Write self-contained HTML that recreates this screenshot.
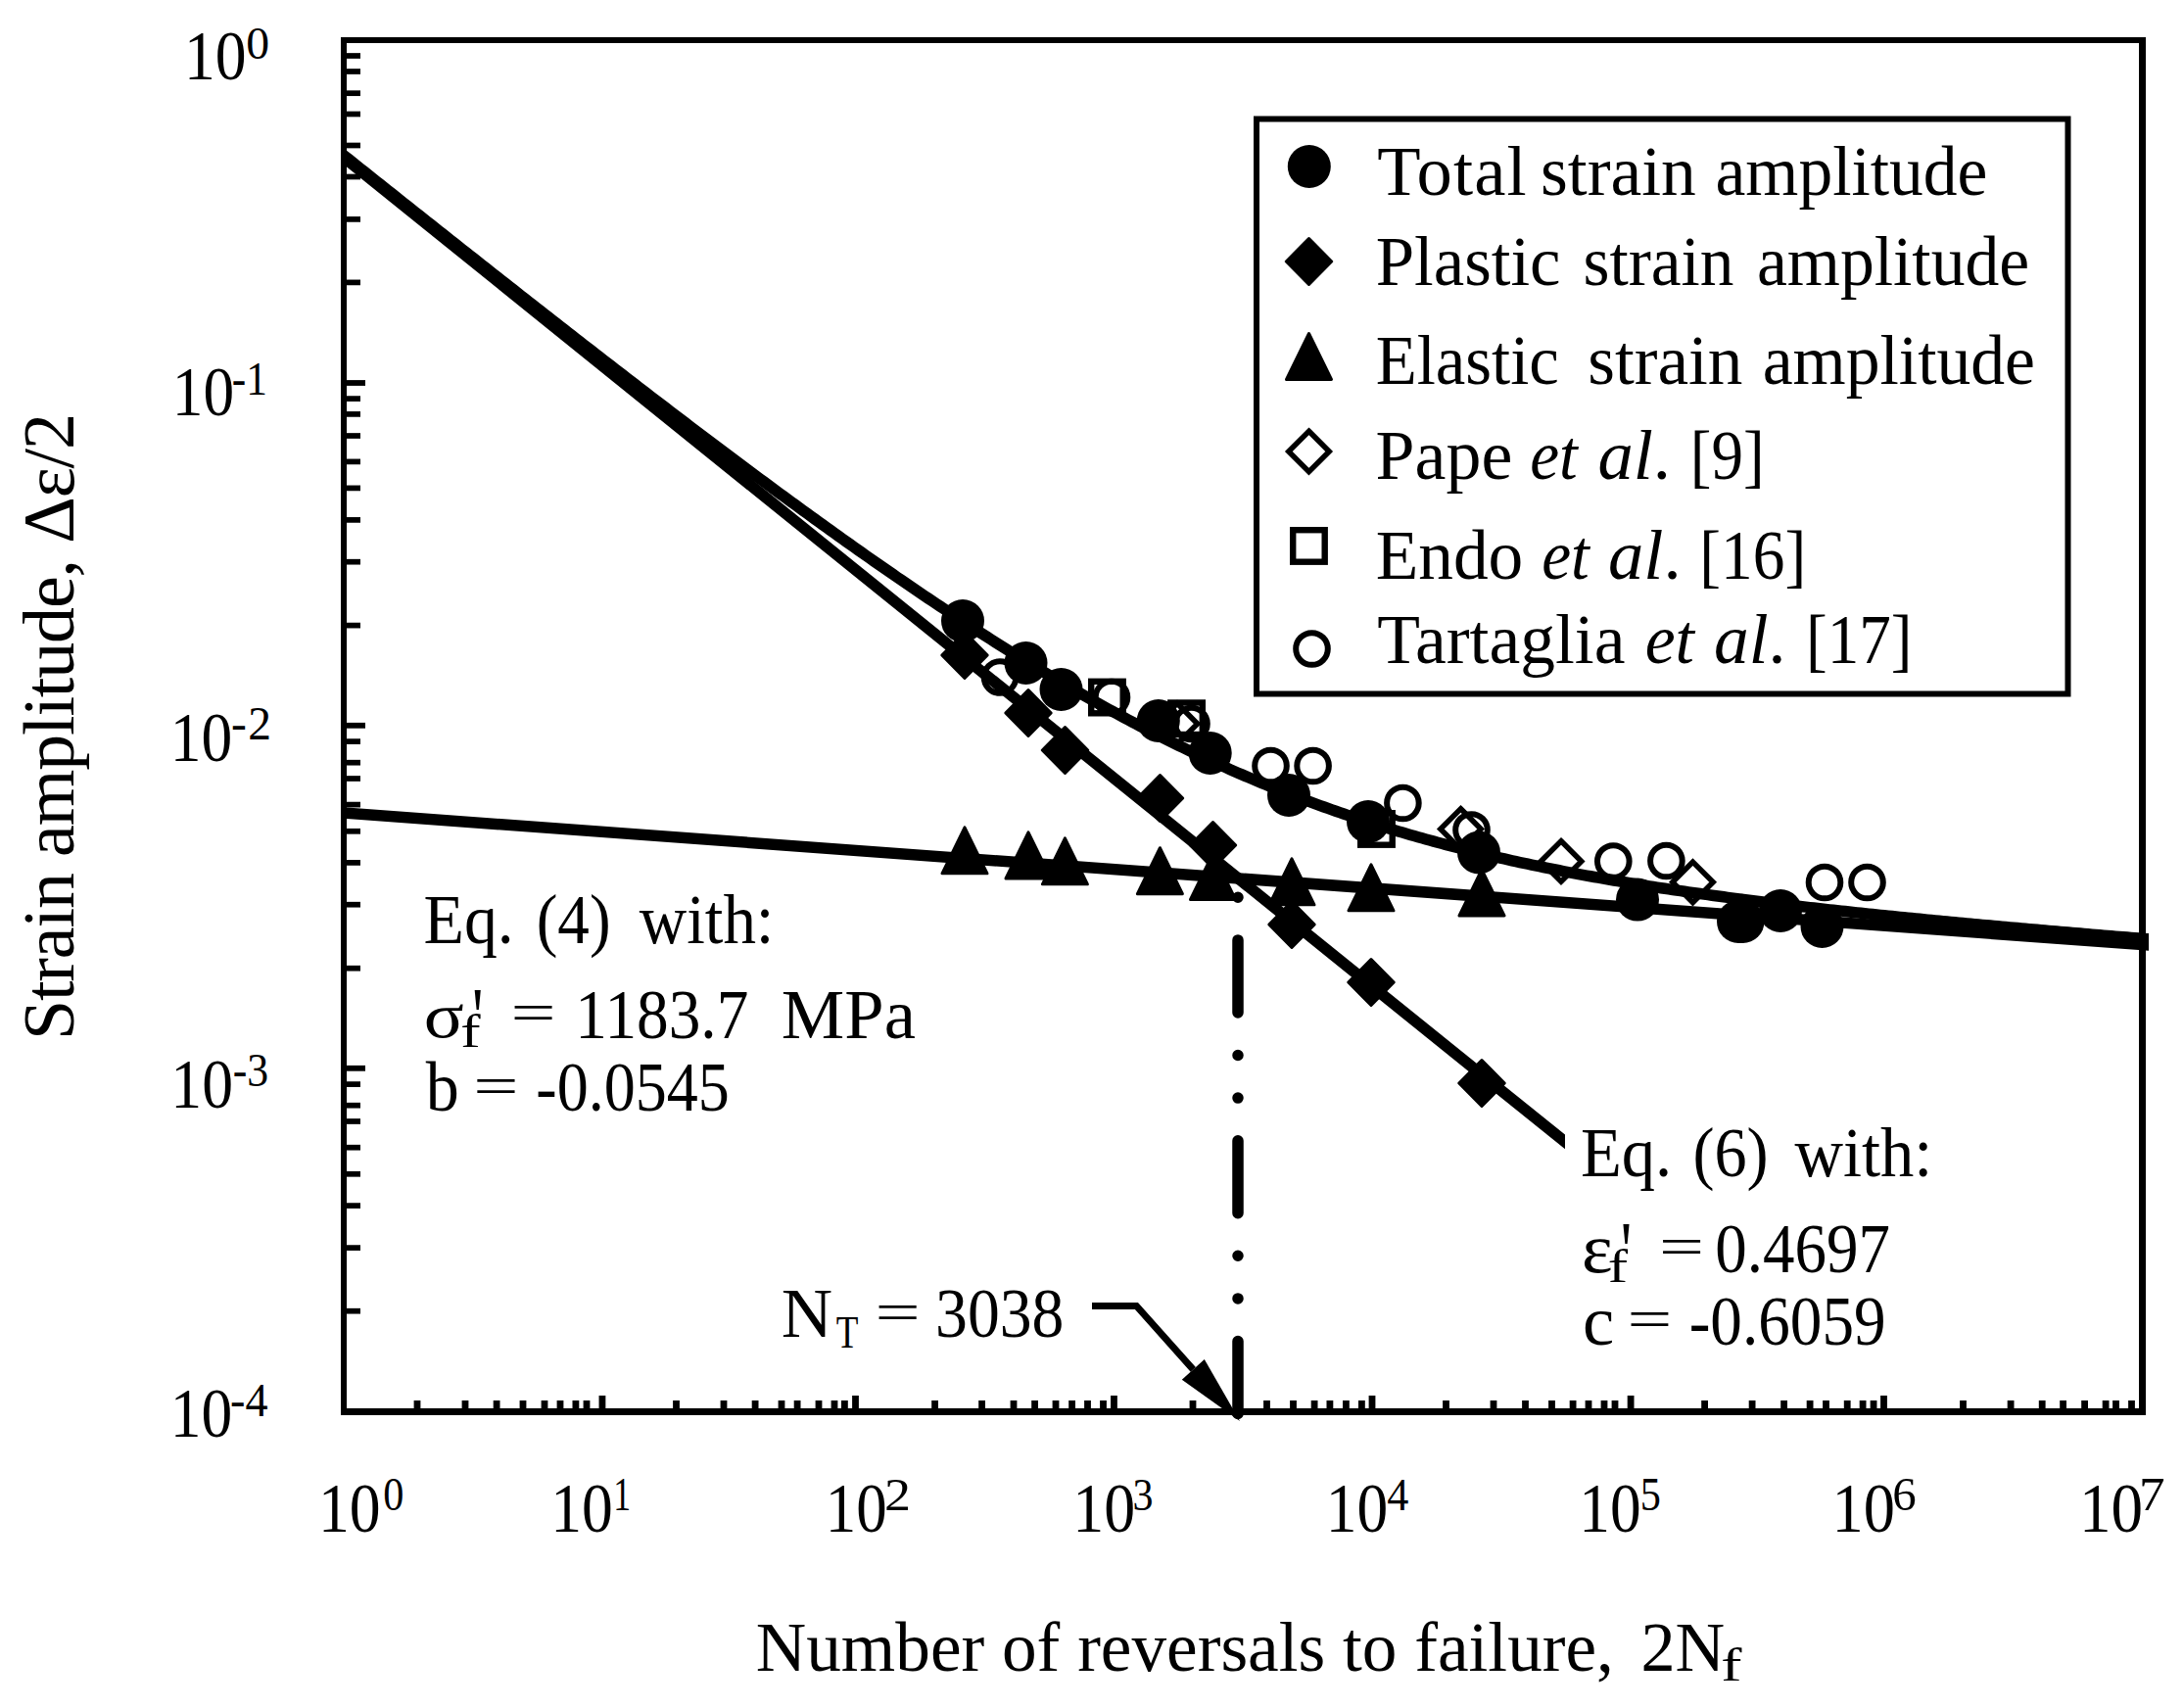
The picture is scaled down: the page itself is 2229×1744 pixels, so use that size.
<!DOCTYPE html>
<html><head><meta charset="utf-8"><title>Strain-life curve</title>
<style>html,body{margin:0;padding:0;background:#fff;}svg{display:block;}text{font-family:'Liberation Serif','Times New Roman',serif;fill:#000;}</style></head><body>
<svg width="2229" height="1744" viewBox="0 0 2229 1744">
<rect x="0" y="0" width="2229" height="1744" fill="#fff"/>
<defs><clipPath id="plotclip"><rect x="351" y="41" width="1843" height="1400"/></clipPath><clipPath id="plclip"><rect x="351" y="41" width="1247.0" height="1400"/></clipPath></defs>
<g clip-path="url(#plotclip)" fill="none" stroke="#000" stroke-width="11.5" stroke-linejoin="round">
<line x1="340" y1="829.29" x2="2210" y2="966.22"/>
<polyline points="340.0,149.83 344.0,153.02 348.0,156.21 352.0,159.39 356.0,162.58 360.0,165.77 364.0,168.96 368.0,172.14 372.0,175.33 376.0,178.51 380.0,181.70 384.0,184.88 388.0,188.06 392.0,191.24 396.0,194.42 400.0,197.60 404.0,200.78 408.0,203.96 412.0,207.14 416.0,210.31 420.0,213.49 424.0,216.66 428.0,219.83 432.0,223.01 436.0,226.18 440.0,229.35 444.0,232.52 448.0,235.68 452.0,238.85 456.0,242.02 460.0,245.18 464.0,248.34 468.0,251.51 472.0,254.67 476.0,257.83 480.0,260.99 484.0,264.14 488.0,267.30 492.0,270.45 496.0,273.61 500.0,276.76 504.0,279.91 508.0,283.06 512.0,286.21 516.0,289.35 520.0,292.50 524.0,295.64 528.0,298.78 532.0,301.92 536.0,305.06 540.0,308.20 544.0,311.34 548.0,314.47 552.0,317.60 556.0,320.73 560.0,323.86 564.0,326.99 568.0,330.11 572.0,333.23 576.0,336.35 580.0,339.47 584.0,342.59 588.0,345.70 592.0,348.82 596.0,351.93 600.0,355.04 604.0,358.14 608.0,361.25 612.0,364.35 616.0,367.45 620.0,370.55 624.0,373.64 628.0,376.73 632.0,379.82 636.0,382.91 640.0,385.99 644.0,389.08 648.0,392.16 652.0,395.23 656.0,398.31 660.0,401.38 664.0,404.45 668.0,407.51 672.0,410.58 676.0,413.64 680.0,416.69 684.0,419.75 688.0,422.80 692.0,425.84 696.0,428.89 700.0,431.93 704.0,434.97 708.0,438.00 712.0,441.03 716.0,444.06 720.0,447.08 724.0,450.10 728.0,453.12 732.0,456.13 736.0,459.14 740.0,462.14 744.0,465.14 748.0,468.14 752.0,471.13 756.0,474.12 760.0,477.10 764.0,480.08 768.0,483.06 772.0,486.03 776.0,489.00 780.0,491.96 784.0,494.91 788.0,497.87 792.0,500.81 796.0,503.76 800.0,506.70 804.0,509.63 808.0,512.56 812.0,515.48 816.0,518.39 820.0,521.31 824.0,524.21 828.0,527.11 832.0,530.01 836.0,532.90 840.0,535.78 844.0,538.66 848.0,541.53 852.0,544.40 856.0,547.26 860.0,550.11 864.0,552.96 868.0,555.80 872.0,558.63 876.0,561.46 880.0,564.28 884.0,567.10 888.0,569.90 892.0,572.70 896.0,575.50 900.0,578.28 904.0,581.06 908.0,583.83 912.0,586.60 916.0,589.36 920.0,592.10 924.0,594.85 928.0,597.58 932.0,600.30 936.0,603.02 940.0,605.73 944.0,608.43 948.0,611.12 952.0,613.81 956.0,616.48 960.0,619.15 964.0,621.81 968.0,624.46 972.0,627.10 976.0,629.73 980.0,632.35 984.0,634.97 988.0,637.57 992.0,640.16 996.0,642.75 1000.0,645.32 1004.0,647.89 1008.0,650.44 1012.0,652.99 1016.0,655.52 1020.0,658.05 1024.0,660.56 1028.0,663.06 1032.0,665.56 1036.0,668.04 1040.0,670.51 1044.0,672.97 1048.0,675.42 1052.0,677.86 1056.0,680.29 1060.0,682.71 1064.0,685.11 1068.0,687.51 1072.0,689.89 1076.0,692.26 1080.0,694.62 1084.0,696.96 1088.0,699.30 1092.0,701.62 1096.0,703.93 1100.0,706.23 1104.0,708.52 1108.0,710.79 1112.0,713.06 1116.0,715.31 1120.0,717.54 1124.0,719.77 1128.0,721.98 1132.0,724.18 1136.0,726.36 1140.0,728.53 1144.0,730.69 1148.0,732.84 1152.0,734.97 1156.0,737.09 1160.0,739.20 1164.0,741.29 1168.0,743.37 1172.0,745.44 1176.0,747.49 1180.0,749.53 1184.0,751.56 1188.0,753.57 1192.0,755.57 1196.0,757.55 1200.0,759.52 1204.0,761.48 1208.0,763.42 1212.0,765.35 1216.0,767.27 1220.0,769.17 1224.0,771.05 1228.0,772.93 1232.0,774.79 1236.0,776.63 1240.0,778.46 1244.0,780.28 1248.0,782.08 1252.0,783.87 1256.0,785.64 1260.0,787.40 1264.0,789.15 1268.0,790.88 1272.0,792.60 1276.0,794.30 1280.0,795.99 1284.0,797.67 1288.0,799.33 1292.0,800.97 1296.0,802.61 1300.0,804.23 1304.0,805.83 1308.0,807.42 1312.0,809.00 1316.0,810.56 1320.0,812.11 1324.0,813.65 1328.0,815.17 1332.0,816.68 1336.0,818.17 1340.0,819.65 1344.0,821.12 1348.0,822.57 1352.0,824.01 1356.0,825.44 1360.0,826.85 1364.0,828.25 1368.0,829.64 1372.0,831.01 1376.0,832.37 1380.0,833.72 1384.0,835.06 1388.0,836.38 1392.0,837.69 1396.0,838.98 1400.0,840.26 1404.0,841.53 1408.0,842.79 1412.0,844.04 1416.0,845.27 1420.0,846.49 1424.0,847.70 1428.0,848.90 1432.0,850.08 1436.0,851.25 1440.0,852.41 1444.0,853.56 1448.0,854.70 1452.0,855.83 1456.0,856.94 1460.0,858.04 1464.0,859.14 1468.0,860.22 1472.0,861.29 1476.0,862.35 1480.0,863.39 1484.0,864.43 1488.0,865.46 1492.0,866.47 1496.0,867.48 1500.0,868.47 1504.0,869.46 1508.0,870.43 1512.0,871.40 1516.0,872.35 1520.0,873.30 1524.0,874.23 1528.0,875.16 1532.0,876.07 1536.0,876.98 1540.0,877.88 1544.0,878.76 1548.0,879.64 1552.0,880.51 1556.0,881.37 1560.0,882.23 1564.0,883.07 1568.0,883.90 1572.0,884.73 1576.0,885.55 1580.0,886.36 1584.0,887.16 1588.0,887.95 1592.0,888.74 1596.0,889.52 1600.0,890.29 1604.0,891.05 1608.0,891.81 1612.0,892.55 1616.0,893.29 1620.0,894.03 1624.0,894.75 1628.0,895.47 1632.0,896.18 1636.0,896.89 1640.0,897.58 1644.0,898.28 1648.0,898.96 1652.0,899.64 1656.0,900.31 1660.0,900.98 1664.0,901.63 1668.0,902.29 1672.0,902.93 1676.0,903.58 1680.0,904.21 1684.0,904.84 1688.0,905.46 1692.0,906.08 1696.0,906.70 1700.0,907.30 1704.0,907.90 1708.0,908.50 1712.0,909.09 1716.0,909.68 1720.0,910.26 1724.0,910.83 1728.0,911.41 1732.0,911.97 1736.0,912.53 1740.0,913.09 1744.0,913.64 1748.0,914.19 1752.0,914.73 1756.0,915.27 1760.0,915.81 1764.0,916.34 1768.0,916.86 1772.0,917.39 1776.0,917.91 1780.0,918.42 1784.0,918.93 1788.0,919.44 1792.0,919.94 1796.0,920.44 1800.0,920.93 1804.0,921.42 1808.0,921.91 1812.0,922.40 1816.0,922.88 1820.0,923.36 1824.0,923.83 1828.0,924.30 1832.0,924.77 1836.0,925.23 1840.0,925.70 1844.0,926.15 1848.0,926.61 1852.0,927.06 1856.0,927.51 1860.0,927.96 1864.0,928.40 1868.0,928.85 1872.0,929.28 1876.0,929.72 1880.0,930.15 1884.0,930.59 1888.0,931.01 1892.0,931.44 1896.0,931.86 1900.0,932.28 1904.0,932.70 1908.0,933.12 1912.0,933.53 1916.0,933.95 1920.0,934.36 1924.0,934.76 1928.0,935.17 1932.0,935.57 1936.0,935.97 1940.0,936.37 1944.0,936.77 1948.0,937.17 1952.0,937.56 1956.0,937.95 1960.0,938.34 1964.0,938.73 1968.0,939.12 1972.0,939.50 1976.0,939.89 1980.0,940.27 1984.0,940.65 1988.0,941.02 1992.0,941.40 1996.0,941.78 2000.0,942.15 2004.0,942.52 2008.0,942.89 2012.0,943.26 2016.0,943.63 2020.0,943.99 2024.0,944.36 2028.0,944.72 2032.0,945.09 2036.0,945.45 2040.0,945.81 2044.0,946.16 2048.0,946.52 2052.0,946.88 2056.0,947.23 2060.0,947.59 2064.0,947.94 2068.0,948.29 2072.0,948.64 2076.0,948.99 2080.0,949.34 2084.0,949.68 2088.0,950.03 2092.0,950.38 2096.0,950.72 2100.0,951.06 2104.0,951.41 2108.0,951.75 2112.0,952.09 2116.0,952.43 2120.0,952.77 2124.0,953.10 2128.0,953.44 2132.0,953.78 2136.0,954.11 2140.0,954.45 2144.0,954.78 2148.0,955.11 2152.0,955.44 2156.0,955.78 2160.0,956.11 2164.0,956.44 2168.0,956.77 2172.0,957.09 2176.0,957.42 2180.0,957.75 2184.0,958.08 2188.0,958.40 2192.0,958.73 2196.0,959.05 2200.0,959.38 2204.0,959.70 2208.0,960.02"/>
</g>
<g clip-path="url(#plclip)" fill="none" stroke="#000" stroke-width="11.5">
<line x1="340" y1="151.63" x2="1620" y2="1183.69"/>
</g>
<line x1="1264" y1="1443.5" x2="1264" y2="895" stroke="#000" stroke-width="11.5" stroke-linecap="round" stroke-dasharray="74 43.6 0 43.6 0 43.6" fill="none"/>
<g fill="#000" stroke="#000" stroke-width="3" stroke-linejoin="round">
<path d="M985.0 645.5L1008.2 669.0L985.0 692.5L961.8 669.0Z"/>
<path d="M1050.0 704.5L1073.2 728.0L1050.0 751.5L1026.8 728.0Z"/>
<path d="M1087.5 742.5L1110.7 766.0L1087.5 789.5L1064.3 766.0Z"/>
<path d="M1184.5 791.5L1207.7 815.0L1184.5 838.5L1161.3 815.0Z"/>
<path d="M1238.5 839.5L1261.7 863.0L1238.5 886.5L1215.3 863.0Z"/>
<path d="M1319.0 920.5L1342.2 944.0L1319.0 967.5L1295.8 944.0Z"/>
<path d="M1400.0 979.5L1423.2 1003.0L1400.0 1026.5L1376.8 1003.0Z"/>
<path d="M1513.0 1082.5L1536.2 1106.0L1513.0 1129.5L1489.8 1106.0Z"/>
<path d="M985.0 844.8L1008.0 891.8L962.0 891.8Z"/>
<path d="M1050.0 849.9L1073.0 896.9L1027.0 896.9Z"/>
<path d="M1087.4 855.8L1110.4 902.8L1064.4 902.8Z"/>
<path d="M1184.4 865.7L1207.4 912.7L1161.4 912.7Z"/>
<path d="M1238.5 871.5L1261.5 918.5L1215.5 918.5Z"/>
<path d="M1319.0 876.8L1342.0 923.8L1296.0 923.8Z"/>
<path d="M1400.0 882.8L1423.0 929.8L1377.0 929.8Z"/>
<path d="M1513.0 887.9L1536.0 934.9L1490.0 934.9Z"/>
</g>
<g fill="#000">
<circle cx="983.0" cy="634.0" r="22"/>
<circle cx="1047.5" cy="677.0" r="22"/>
<circle cx="1083.5" cy="704.0" r="22"/>
<circle cx="1182.8" cy="736.0" r="22"/>
<circle cx="1235.7" cy="769.0" r="22"/>
<circle cx="1316.0" cy="812.0" r="22"/>
<circle cx="1397.0" cy="839.0" r="22"/>
<circle cx="1510.0" cy="870.5" r="22"/>
<circle cx="1672.0" cy="918.6" r="22"/>
<circle cx="1775.0" cy="941.0" r="22"/>
<circle cx="1779.5" cy="941.0" r="22"/>
<circle cx="1818.0" cy="930.0" r="22"/>
<circle cx="1860.5" cy="946.0" r="22"/>
</g>
<g fill="none" stroke="#000" stroke-width="5.5" stroke-miterlimit="10">
<path d="M1202.0 718.3L1222.7 739.0L1202.0 759.7L1181.3 739.0Z"/>
<path d="M1491.5 825.8L1512.2 846.5L1491.5 867.2L1470.8 846.5Z"/>
<path d="M1594.0 858.8L1614.7 879.5L1594.0 900.2L1573.3 879.5Z"/>
<path d="M1728.5 880.1L1749.2 900.8L1728.5 921.5L1707.8 900.8Z"/>
</g>
<g fill="none" stroke="#000" stroke-width="6.4">
<rect x="1114.2" y="695.8" width="32.5" height="32.5"/>
<rect x="1195.3" y="717.5" width="32.5" height="32.5"/>
<rect x="1389.2" y="830.2" width="32.5" height="32.5"/>
</g>
<g fill="none" stroke="#000" stroke-width="6">
<circle cx="1021.0" cy="691.5" r="16.3"/>
<circle cx="1135.0" cy="712.0" r="16.3"/>
<circle cx="1216.5" cy="739.0" r="16.3"/>
<circle cx="1297.5" cy="782.0" r="16.3"/>
<circle cx="1340.6" cy="782.0" r="16.3"/>
<circle cx="1432.4" cy="820.0" r="16.3"/>
<circle cx="1502.5" cy="847.5" r="16.3"/>
<circle cx="1647.3" cy="879.5" r="16.3"/>
<circle cx="1701.4" cy="879.0" r="16.3"/>
<circle cx="1863.0" cy="901.0" r="16.3"/>
<circle cx="1906.5" cy="901.0" r="16.3"/>
</g>
<polyline points="1115,1333.5 1160.4,1333.5 1218.3,1398.4" fill="none" stroke="#000" stroke-width="7" stroke-linejoin="miter"/>
<path d="M1266 1451L1206.8 1408.7L1229.8 1388.1Z" fill="#000"/>
<g fill="#000">
<rect x="348" y="38" width="6" height="1407"/>
<rect x="2184" y="38" width="7" height="1407"/>
<rect x="348" y="38" width="1843" height="6"/>
<rect x="350" y="1438" width="1841" height="7"/>
<rect x="354" y="388.10" width="19" height="5.8"/>
<rect x="354" y="737.90" width="19" height="5.8"/>
<rect x="354" y="1087.90" width="19" height="5.8"/>
<rect x="354" y="54.15" width="14" height="5.7"/>
<rect x="354" y="70.15" width="14" height="5.7"/>
<rect x="354" y="92.35" width="14" height="5.7"/>
<rect x="354" y="113.65" width="14" height="5.7"/>
<rect x="354" y="145.65" width="14" height="5.7"/>
<rect x="354" y="177.65" width="14" height="5.7"/>
<rect x="354" y="221.05" width="14" height="5.7"/>
<rect x="354" y="285.55" width="14" height="5.7"/>
<rect x="354" y="404.25" width="14" height="5.7"/>
<rect x="354" y="420.05" width="14" height="5.7"/>
<rect x="354" y="442.15" width="14" height="5.7"/>
<rect x="354" y="468.55" width="14" height="5.7"/>
<rect x="354" y="495.55" width="14" height="5.7"/>
<rect x="354" y="528.05" width="14" height="5.7"/>
<rect x="354" y="570.85" width="14" height="5.7"/>
<rect x="354" y="635.75" width="14" height="5.7"/>
<rect x="354" y="754.25" width="14" height="5.7"/>
<rect x="354" y="775.85" width="14" height="5.7"/>
<rect x="354" y="792.15" width="14" height="5.7"/>
<rect x="354" y="818.75" width="14" height="5.7"/>
<rect x="354" y="845.95" width="14" height="5.7"/>
<rect x="354" y="878.05" width="14" height="5.7"/>
<rect x="354" y="920.85" width="14" height="5.7"/>
<rect x="354" y="985.85" width="14" height="5.7"/>
<rect x="354" y="1104.25" width="14" height="5.7"/>
<rect x="354" y="1125.85" width="14" height="5.7"/>
<rect x="354" y="1142.15" width="14" height="5.7"/>
<rect x="354" y="1168.85" width="14" height="5.7"/>
<rect x="354" y="1195.95" width="14" height="5.7"/>
<rect x="354" y="1228.25" width="14" height="5.7"/>
<rect x="354" y="1271.25" width="14" height="5.7"/>
<rect x="354" y="1335.85" width="14" height="5.7"/>
<rect x="611.55" y="1425" width="6.8" height="13"/>
<rect x="870.10" y="1425" width="6.8" height="13"/>
<rect x="1134.05" y="1425" width="6.8" height="13"/>
<rect x="1397.60" y="1425" width="6.8" height="13"/>
<rect x="1661.70" y="1425" width="6.8" height="13"/>
<rect x="1920.10" y="1425" width="6.8" height="13"/>
<rect x="422.60" y="1430" width="6.8" height="8"/>
<rect x="471.60" y="1430" width="6.8" height="8"/>
<rect x="503.70" y="1430" width="6.8" height="8"/>
<rect x="530.60" y="1430" width="6.8" height="8"/>
<rect x="552.60" y="1430" width="6.8" height="8"/>
<rect x="568.60" y="1430" width="6.8" height="8"/>
<rect x="584.50" y="1430" width="6.8" height="8"/>
<rect x="595.60" y="1430" width="6.8" height="8"/>
<rect x="687.10" y="1430" width="6.8" height="8"/>
<rect x="735.60" y="1430" width="6.8" height="8"/>
<rect x="767.70" y="1430" width="6.8" height="8"/>
<rect x="794.60" y="1430" width="6.8" height="8"/>
<rect x="810.70" y="1430" width="6.8" height="8"/>
<rect x="832.60" y="1430" width="6.8" height="8"/>
<rect x="848.60" y="1430" width="6.8" height="8"/>
<rect x="859.00" y="1430" width="6.8" height="8"/>
<rect x="951.20" y="1430" width="6.8" height="8"/>
<rect x="999.20" y="1430" width="6.8" height="8"/>
<rect x="1031.60" y="1430" width="6.8" height="8"/>
<rect x="1053.20" y="1430" width="6.8" height="8"/>
<rect x="1074.60" y="1430" width="6.8" height="8"/>
<rect x="1091.20" y="1430" width="6.8" height="8"/>
<rect x="1107.10" y="1430" width="6.8" height="8"/>
<rect x="1123.10" y="1430" width="6.8" height="8"/>
<rect x="1214.60" y="1430" width="6.8" height="8"/>
<rect x="1260.60" y="1430" width="6.8" height="8"/>
<rect x="1290.10" y="1430" width="6.8" height="8"/>
<rect x="1317.10" y="1430" width="6.8" height="8"/>
<rect x="1338.70" y="1430" width="6.8" height="8"/>
<rect x="1354.50" y="1430" width="6.8" height="8"/>
<rect x="1371.00" y="1430" width="6.8" height="8"/>
<rect x="1387.00" y="1430" width="6.8" height="8"/>
<rect x="1473.10" y="1430" width="6.8" height="8"/>
<rect x="1521.60" y="1430" width="6.8" height="8"/>
<rect x="1554.10" y="1430" width="6.8" height="8"/>
<rect x="1581.10" y="1430" width="6.8" height="8"/>
<rect x="1602.70" y="1430" width="6.8" height="8"/>
<rect x="1618.60" y="1430" width="6.8" height="8"/>
<rect x="1634.60" y="1430" width="6.8" height="8"/>
<rect x="1645.60" y="1430" width="6.8" height="8"/>
<rect x="1737.20" y="1430" width="6.8" height="8"/>
<rect x="1785.70" y="1430" width="6.8" height="8"/>
<rect x="1818.20" y="1430" width="6.8" height="8"/>
<rect x="1844.70" y="1430" width="6.8" height="8"/>
<rect x="1861.10" y="1430" width="6.8" height="8"/>
<rect x="1882.80" y="1430" width="6.8" height="8"/>
<rect x="1898.70" y="1430" width="6.8" height="8"/>
<rect x="1909.65" y="1430" width="6.8" height="8"/>
<rect x="2001.10" y="1430" width="6.8" height="8"/>
<rect x="2049.70" y="1430" width="6.8" height="8"/>
<rect x="2081.80" y="1430" width="6.8" height="8"/>
<rect x="2103.20" y="1430" width="6.8" height="8"/>
<rect x="2125.20" y="1430" width="6.8" height="8"/>
<rect x="2146.70" y="1430" width="6.8" height="8"/>
<rect x="2157.10" y="1430" width="6.8" height="8"/>
<rect x="2173.10" y="1430" width="6.8" height="8"/>
</g>
<rect x="1283" y="121.5" width="828.5" height="587" fill="none" stroke="#000" stroke-width="6"/>
<g fill="#000" stroke="#000" stroke-width="3" stroke-linejoin="round">
<path d="M1336.5 243.5L1359.7 267.0L1336.5 290.5L1313.3 267.0Z"/>
<path d="M1336.5 340.5L1359.5 387.5L1313.5 387.5Z"/>
</g>
<circle cx="1336.8" cy="170.0" r="22"/>
<g fill="none" stroke="#000" stroke-width="5.5"><path d="M1336.5 440.3L1357.2 461.0L1336.5 481.7L1315.8 461.0Z"/></g>
<g fill="none" stroke="#000" stroke-width="6.4"><rect x="1320.2" y="541.2" width="32.5" height="32.5"/></g>
<g fill="none" stroke="#000" stroke-width="6"><circle cx="1339.5" cy="662.5" r="16.3"/></g>
<text id="y0m" transform="translate(187.97 80.70) scale(0.8766 1.0000)" font-size="72.50">10</text>
<text id="y0s" transform="translate(251.19 59.50) scale(1.0050 1.0000)" font-size="47.50">0</text>
<text id="y1m" transform="translate(175.76 423.75) scale(0.8734 1.0000)" font-size="72.50">10</text>
<text id="y1s" transform="translate(236.78 403.00) scale(0.9143 1.0000)" font-size="47.50">-1</text>
<text id="y2m" transform="translate(173.75 777.00) scale(0.8750 1.0000)" font-size="72.50">10</text>
<text id="y2s" x="236.00" y="754.80" font-size="47.50" textLength="40.88" lengthAdjust="spacing">-2</text>
<text id="y3m" transform="translate(174.34 1131.00) scale(0.8781 1.0000)" font-size="72.50">10</text>
<text id="y3s" transform="translate(237.76 1108.80) scale(0.9222 1.0000)" font-size="47.50">-3</text>
<text id="y4m" transform="translate(173.75 1467.00) scale(0.8750 1.0000)" font-size="72.50">10</text>
<text id="y4s" transform="translate(235.05 1445.80) scale(0.9730 1.0000)" font-size="47.50">-4</text>
<text id="x0m" transform="translate(324.96 1564.20) scale(0.8781 1.0000)" font-size="72.50">10</text>
<text id="x0s" transform="translate(391.17 1542.00) scale(0.8900 1.0000)" font-size="47.50">0</text>
<text id="x1m" transform="translate(562.35 1564.20) scale(0.8766 1.0000)" font-size="72.50">10</text>
<text id="x1s" transform="translate(626.24 1542.00) scale(0.7529 1.0000)" font-size="47.50">1</text>
<text id="x2m" transform="translate(842.80 1564.20) scale(0.8672 1.0000)" font-size="72.50">10</text>
<text id="x2s" transform="translate(902.90 1542.00) scale(1.1368 1.0000)" font-size="47.50">2</text>
<text id="x3m" transform="translate(1095.32 1564.20) scale(0.8812 1.0000)" font-size="72.50">10</text>
<text id="x3s" transform="translate(1156.45 1542.00) scale(0.8850 1.0000)" font-size="47.50">3</text>
<text id="x4m" transform="translate(1353.75 1564.20) scale(0.8750 1.0000)" font-size="72.50">10</text>
<text id="x4s" transform="translate(1416.25 1542.00) scale(0.9318 1.0000)" font-size="47.50">4</text>
<text id="x5m" transform="translate(1612.37 1564.20) scale(0.8734 1.0000)" font-size="72.50">10</text>
<text id="x5s" transform="translate(1674.72 1542.00) scale(0.8895 1.0000)" font-size="47.50">5</text>
<text id="x6m" transform="translate(1870.50 1564.20) scale(0.8891 1.0000)" font-size="72.50">10</text>
<text id="x6s" transform="translate(1932.33 1542.00) scale(1.0300 1.0000)" font-size="47.50">6</text>
<text id="x7m" transform="translate(2123.05 1564.20) scale(0.8984 1.0000)" font-size="72.50">10</text>
<text id="x7s" transform="translate(2184.05 1542.00) scale(1.1211 1.0000)" font-size="47.50">7</text>
<text id="lg1_0" x="1406.20" y="198.90" font-size="72.50" textLength="152.45" lengthAdjust="spacing">Total</text>
<text id="lg1_1" transform="translate(1573.04 198.90) scale(0.9860 1.0000)" font-size="72.50">strain</text>
<text id="lg1_2" transform="translate(1751.50 198.90) scale(0.9586 1.0000)" font-size="72.50">amplitude</text>
<text id="lg2_0" transform="translate(1404.65 290.60) scale(0.9772 1.0000)" font-size="72.50">Plastic</text>
<text id="lg2_1" transform="translate(1616.50 290.60) scale(0.9563 1.0000)" font-size="72.50">strain</text>
<text id="lg2_2" transform="translate(1793.91 290.60) scale(0.9600 1.0000)" font-size="72.50">amplitude</text>
<text id="lg3_0" transform="translate(1404.71 392.00) scale(0.9487 1.0000)" font-size="72.50">Elastic</text>
<text id="lg3_1" transform="translate(1621.25 392.00) scale(0.9822 1.0000)" font-size="72.50">strain</text>
<text id="lg3_2" transform="translate(1799.72 392.00) scale(0.9599 1.0000)" font-size="72.50">amplitude</text>
<text id="lg4_0" transform="translate(1404.62 489.20) scale(0.9912 1.0000)" font-size="72.50">Pape</text>
<text id="lg4_1" transform="translate(1562.18 489.20) scale(0.9275 1.0000)" font-size="72.50" font-style="italic">et</text>
<text id="lg4_2" x="1631.40" y="489.20" font-size="72.50" textLength="74.53" lengthAdjust="spacing" font-style="italic">al<tspan font-style="normal">.</tspan></text>
<text id="lg4_3" transform="translate(1725.73 489.20) scale(0.8973 1.0000)" font-size="72.50">[9]</text>
<text id="lg5_0" transform="translate(1404.63 591.00) scale(0.9845 1.0000)" font-size="72.50">Endo</text>
<text id="lg5_1" transform="translate(1574.14 591.00) scale(0.9288 1.0000)" font-size="72.50" font-style="italic">et</text>
<text id="lg5_2" x="1642.00" y="591.00" font-size="72.50" textLength="74.53" lengthAdjust="spacing" font-style="italic">al<tspan font-style="normal">.</tspan></text>
<text id="lg5_3" transform="translate(1735.37 591.00) scale(0.9009 1.0000)" font-size="72.50">[16]</text>
<text id="lg6_0" transform="translate(1406.22 677.20) scale(0.9874 1.0000)" font-size="72.50">Tartaglia</text>
<text id="lg6_1" transform="translate(1679.68 677.20) scale(0.9596 1.0000)" font-size="72.50" font-style="italic">et</text>
<text id="lg6_2" transform="translate(1750.03 677.20) scale(0.9853 1.0000)" font-size="72.50" font-style="italic">al<tspan font-style="normal">.</tspan></text>
<text id="lg6_3" transform="translate(1843.95 677.20) scale(0.8982 1.0000)" font-size="72.50">[17]</text>
<text id="xt" transform="translate(771.83 1706.00) scale(0.9824 1.0000)" font-size="72.50">Number of reversals to failure,</text>
<text id="xt2" transform="translate(1675.49 1706.00) scale(0.9679 1.0000)" font-size="72.50">2N</text>
<text id="xts" transform="translate(1757.26 1715.50) scale(1.3000 1.0000)" font-size="49.00">f</text>
<text id="yt" transform="translate(74.80 1062.00) rotate(-90)" x="0" y="0" font-size="74.00" textLength="640.02" lengthAdjust="spacing">Strain amplitude, &#916;&#949;/2</text>
<text id="eq4a" transform="translate(432.56 962.60) scale(0.9348 1.0000)" font-size="72.50">Eq.</text>
<text id="eq4b" transform="translate(547.70 962.60) scale(0.8974 1.0000)" font-size="72.50">(4)</text>
<text id="eq4c" transform="translate(652.82 962.60) scale(0.9238 1.0000)" font-size="72.50">with:</text>
<text id="sg" transform="translate(432.70 1059.00) scale(1.1515 1.0000)" font-size="66.00">&#963;</text>
<text id="sgf" transform="translate(470.30 1068.90) scale(1.2733 1.0000)" font-size="48.00">f</text>
<text id="sgp" transform="translate(482.00 1066.70) scale(0.7500 1.0000)" font-size="85.00">'</text>
<text id="sge" transform="translate(521.49 1052.77) scale(1.1273 0.7800)" font-size="72.50">=</text>
<text id="sgv" transform="translate(587.26 1059.60) scale(0.9005 1.0000)" font-size="72.50">1183.7</text>
<text id="sgu" x="797.80" y="1059.60" font-size="72.50" textLength="137.17" lengthAdjust="spacing">MPa</text>
<text id="bb" transform="translate(434.79 1134.00) scale(0.9382 1.0000)" font-size="72.50">b</text>
<text id="be" transform="translate(483.30 1127.77) scale(1.1324 0.7800)" font-size="72.50">=</text>
<text id="bv" transform="translate(547.35 1134.00) scale(0.8830 1.0000)" font-size="72.50">-0.0545</text>
<text id="eq6a" transform="translate(1613.93 1201.00) scale(0.9457 1.0000)" font-size="72.50">Eq.</text>
<text id="eq6b" transform="translate(1728.43 1201.00) scale(0.9139 1.0000)" font-size="72.50">(6)</text>
<text id="eq6c" transform="translate(1832.39 1201.00) scale(0.9455 1.0000)" font-size="72.50">with:</text>
<text id="ep" transform="translate(1615.07 1298.50) scale(1.0400 1.0000)" font-size="72.50">&#949;</text>
<text id="epf" transform="translate(1641.87 1308.90) scale(1.2733 1.0000)" font-size="48.00">f</text>
<text id="epp" transform="translate(1654.63 1305.60) scale(0.7500 1.0000)" font-size="85.00">'</text>
<text id="epe" transform="translate(1694.08 1291.77) scale(1.1273 0.7800)" font-size="72.50">=</text>
<text id="epv" transform="translate(1751.31 1298.50) scale(0.8959 1.0000)" font-size="72.50">0.4697</text>
<text id="cc" x="1616.00" y="1372.70" font-size="72.50">c</text>
<text id="ce" transform="translate(1661.52 1366.27) scale(1.1212 0.7800)" font-size="72.50">=</text>
<text id="cv" transform="translate(1724.64 1372.70) scale(0.8991 1.0000)" font-size="72.50">-0.6059</text>
<text id="nt" x="797.80" y="1365.40" font-size="72.50">N</text>
<text id="nts" transform="translate(853.72 1375.70) scale(0.8074 1.0000)" font-size="46.00">T</text>
<text id="nte" transform="translate(893.48 1359.17) scale(1.1303 0.7800)" font-size="72.50">=</text>
<text id="ntv" transform="translate(955.11 1365.40) scale(0.9058 1.0000)" font-size="72.50">3038</text>
</svg></body></html>
